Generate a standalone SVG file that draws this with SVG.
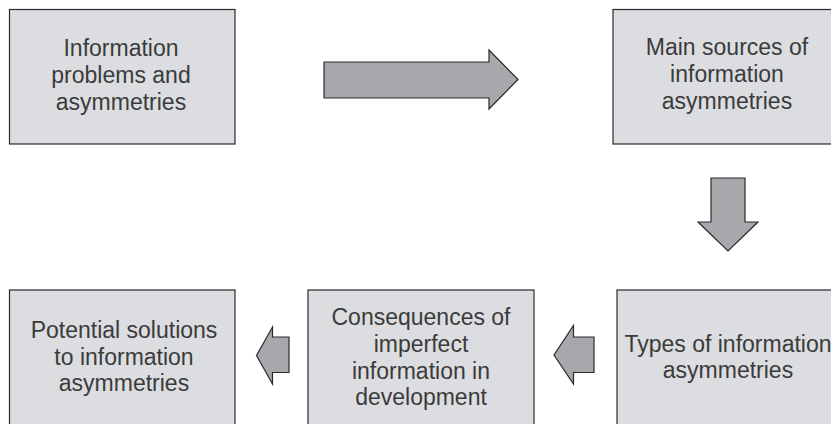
<svg xmlns="http://www.w3.org/2000/svg" width="831" height="424" viewBox="0 0 831 424">
  <style>
    .box { fill: #dcdde0; stroke: #2a2a2a; stroke-width: 1.2; }
    .arrow { fill: #a7a8ac; stroke: #2a2a2a; stroke-width: 1.2; stroke-linejoin: miter; }
    .label { font-family: "Liberation Sans", Arial, sans-serif; font-size: 23px; fill: #3b3b3b; text-anchor: middle; }
  </style>
  <rect width="831" height="424" fill="#ffffff"/>

  <g id="node-info-problems">
    <rect class="box" x="9.5" y="9.5" width="225.5" height="134.5"/>
    <text class="label" x="121" y="56">Information</text>
    <text class="label" x="121" y="83">problems and</text>
    <text class="label" x="121" y="110">asymmetries</text>
  </g>

  <g id="node-main-sources">
    <rect class="box" x="613" y="9.5" width="226" height="134.5"/>
    <text class="label" x="727" y="55">Main sources of</text>
    <text class="label" x="727" y="82">information</text>
    <text class="label" x="727" y="109">asymmetries</text>
  </g>

  <g id="node-types">
    <rect class="box" x="617" y="290" width="226" height="150"/>
    <text class="label" x="728" y="352">Types of information</text>
    <text class="label" x="728" y="378">asymmetries</text>
  </g>

  <g id="node-consequences">
    <rect class="box" x="308" y="290" width="226" height="150"/>
    <text class="label" x="421" y="325">Consequences of</text>
    <text class="label" x="421" y="352">imperfect</text>
    <text class="label" x="421" y="379">information in</text>
    <text class="label" x="421" y="405">development</text>
  </g>

  <g id="node-solutions">
    <rect class="box" x="9.5" y="290" width="225.5" height="150"/>
    <text class="label" x="124" y="338">Potential solutions</text>
    <text class="label" x="124" y="365">to information</text>
    <text class="label" x="124" y="391">asymmetries</text>
  </g>

  <g id="connectors">
    <!-- block arrow: problems -> sources -->
    <polygon class="arrow" points="324,62 489,62 489,50 518,79.5 489,109 489,98 324,98"/>
    <!-- block arrow: sources -> types -->
    <polygon class="arrow" points="711,178 745,178 745,222 758,222 728,251 698,222 711,222"/>
    <!-- block arrow: types -> consequences -->
    <polygon class="arrow" points="594,337 594,372.5 573.5,372.5 573.5,384 554,355 573.5,325.5 573.5,337"/>
    <!-- block arrow: consequences -> solutions -->
    <polygon class="arrow" points="289,337 289,372.5 272.5,372.5 272.5,384 256.5,355.5 272.5,327 272.5,337"/>
  </g>
</svg>
